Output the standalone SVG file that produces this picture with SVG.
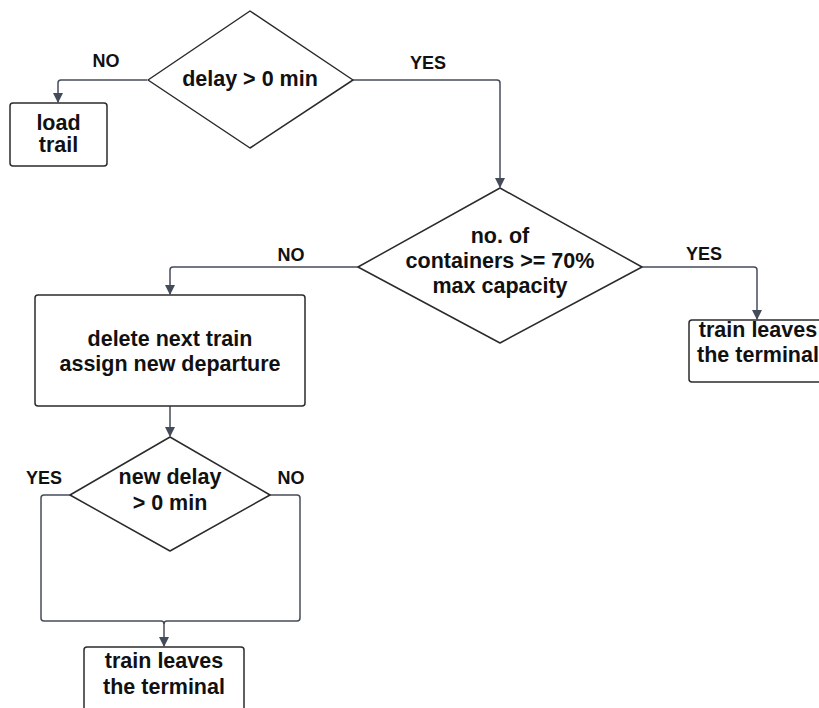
<svg xmlns="http://www.w3.org/2000/svg" width="819" height="708" viewBox="0 0 819 708">
<style>
.shape{fill:#fff;stroke:#2b2b2b;stroke-width:1.5}
.t{font-family:"Liberation Sans",Arial,sans-serif;font-weight:bold;font-size:21.5px;fill:#111;text-anchor:middle}
.lbl{font-family:"Liberation Sans",Arial,sans-serif;font-weight:bold;font-size:18px;fill:#111;text-anchor:middle}
.c{fill:none;stroke:#454c59;stroke-width:1.5;stroke-linejoin:round}
</style>
<defs>
<marker id="arr" markerWidth="10" markerHeight="12" refX="9" refY="5" orient="auto" markerUnits="userSpaceOnUse">
<path d="M0,0 L10,5 L0,10 Z" fill="#454c59"/>
</marker>
</defs>
<rect width="819" height="708" fill="#fff"/>
<g id="connectors">
<path class="c" d="M147,80 H61 Q58,80 58,83 V102" marker-end="url(#arr)"/>
<path class="c" d="M353,80 H497 Q500,80 500,83 V187" marker-end="url(#arr)"/>
<path class="c" d="M358,267 H173 Q170,267 170,270 V294" marker-end="url(#arr)"/>
<path class="c" d="M642,267 H754 Q757,267 757,270 V319" marker-end="url(#arr)"/>
<path class="c" d="M170,406 V436" marker-end="url(#arr)"/>
<path class="c" d="M70,495 H44 Q41,495 41,498 V618 Q41,621 44,621 H161 Q164,621 164,624 V646" marker-end="url(#arr)"/>
<path class="c" d="M270,495 H297 Q300,495 300,498 V618 Q300,621 297,621 H167 Q164,621 164,624"/>
<text class="lbl" x="106" y="67">NO</text>
<text class="lbl" x="428" y="69">YES</text>
<text class="lbl" x="291" y="261">NO</text>
<text class="lbl" x="704" y="260">YES</text>
<text class="lbl" x="44" y="484">YES</text>
<text class="lbl" x="291" y="484">NO</text>
</g>
<g id="d1">
<path class="shape" d="M250,11 L353,80 L250,148 L148,80 Z" stroke-linejoin="round"/>
<text class="t" x="250" y="86">delay &gt; 0 min</text>
</g>
<g id="loadTrail">
<rect class="shape" x="10" y="103" width="97" height="63" rx="3"/>
<text class="t" x="58.5" y="130">load</text>
<text class="t" x="58.5" y="152">trail</text>
</g>
<g id="d2">
<path class="shape" d="M500,188 L642,267 L500,343 L358,267 Z" stroke-linejoin="round"/>
<text class="t" x="500" y="243">no. of</text>
<text class="t" x="500" y="268">containers &gt;= 70%</text>
<text class="t" x="500" y="293">max capacity</text>
</g>
<g id="leaves1">
<rect class="shape" x="689" y="320" width="138" height="62" rx="3"/>
<text class="t" x="758" y="337">train leaves</text>
<text class="t" x="758" y="362">the terminal</text>
</g>
<g id="deleteBox">
<rect class="shape" x="35" y="295" width="270" height="111" rx="3"/>
<text class="t" x="170" y="346">delete next train</text>
<text class="t" x="170" y="371">assign new departure</text>
</g>
<g id="d3">
<path class="shape" d="M170,437 L270,495 L170,551 L70,495 Z" stroke-linejoin="round"/>
<text class="t" x="170" y="484">new delay</text>
<text class="t" x="170" y="510">&gt; 0 min</text>
</g>
<g id="leaves2">
<rect class="shape" x="84" y="647" width="160" height="70" rx="3"/>
<text class="t" x="164" y="668">train leaves</text>
<text class="t" x="164" y="694">the terminal</text>
</g>
</svg>
